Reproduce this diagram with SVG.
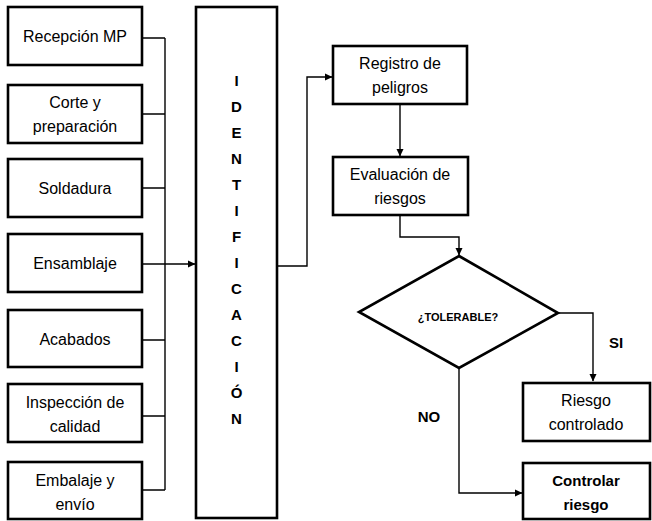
<svg xmlns="http://www.w3.org/2000/svg" width="652" height="521" viewBox="0 0 652 521">
<defs>
<marker id="ah" markerWidth="8" markerHeight="8" refX="7" refY="4" orient="auto" markerUnits="userSpaceOnUse">
<path d="M0,0.5 L7.5,4 L0,7.5 Z" fill="#000"/>
</marker>
<style>
.box{fill:#fff;stroke:#000;stroke-width:2.6}
.t{font-family:"Liberation Sans",Arial,sans-serif;font-size:16px;fill:#000;text-anchor:middle}
.b{font-family:"Liberation Sans",Arial,sans-serif;font-weight:bold;fill:#000;text-anchor:middle}
.c{fill:none;stroke:#000;stroke-width:1.4}
</style>
</defs>
<rect width="652" height="521" fill="#fff"/>
<g id="connectors">
<path class="c" d="M142,38 H165 M142,114 H165 M142,188 H165 M142,340 H165 M142,416 H165 M142,490 H165 M165,38 V490"/>
<path class="c" d="M142,264 H195" marker-end="url(#ah)"/>
<path class="c" d="M277,266 H307 V77 H332" marker-end="url(#ah)"/>
<path class="c" d="M400,104 V156" marker-end="url(#ah)"/>
<path class="c" d="M400,215 V237 H459 V255" marker-end="url(#ah)"/>
<path class="c" d="M558,313 H593 V381" marker-end="url(#ah)"/>
<path class="c" d="M459,368 V493 H522" marker-end="url(#ah)"/>
</g>
<g id="n1"><rect class="box" x="8" y="7" width="134" height="58"/><text class="t" x="75" y="42">Recepción MP</text></g>
<g id="n2"><rect class="box" x="8" y="85" width="134" height="58"/><text class="t" x="75" y="108">Corte y</text><text class="t" x="75" y="132">preparación</text></g>
<g id="n3"><rect class="box" x="8" y="159" width="134" height="58"/><text class="t" x="75" y="194">Soldadura</text></g>
<g id="n4"><rect class="box" x="8" y="234" width="134" height="58"/><text class="t" x="75" y="269">Ensamblaje</text></g>
<g id="n5"><rect class="box" x="8" y="310" width="134" height="57"/><text class="t" x="75" y="345">Acabados</text></g>
<g id="n6"><rect class="box" x="8" y="384" width="134" height="58"/><text class="t" x="75" y="408">Inspección de</text><text class="t" x="75" y="432">calidad</text></g>
<g id="n7"><rect class="box" x="8" y="462" width="134" height="57"/><text class="t" x="75" y="486">Embalaje y</text><text class="t" x="75" y="510">envío</text></g>
<g id="ident"><rect class="box" x="196" y="7" width="81" height="511"/>
<g class="b" style="font-size:15px">
<text x="236.5" y="85.5">I</text><text x="236.5" y="111.5">D</text><text x="236.5" y="137.5">E</text><text x="236.5" y="163.5">N</text><text x="236.5" y="189.5">T</text><text x="236.5" y="215.5">I</text><text x="236.5" y="241.5">F</text><text x="236.5" y="267.5">I</text><text x="236.5" y="293.5">C</text><text x="236.5" y="319.5">A</text><text x="236.5" y="345.5">C</text><text x="236.5" y="371.5">I</text><text x="236.5" y="397.5">Ó</text><text x="236.5" y="423.5">N</text>
</g></g>
<g id="registro"><rect class="box" x="333" y="46" width="134" height="58"/><text class="t" x="400" y="69">Registro de</text><text class="t" x="400" y="93">peligros</text></g>
<g id="evaluacion"><rect class="box" x="333" y="157" width="135" height="58"/><text class="t" x="400" y="180">Evaluación de</text><text class="t" x="400" y="204">riesgos</text></g>
<g id="tolerable"><path d="M459,256 L558,313 L459,368 L359,312 Z" fill="#fff" stroke="#000" stroke-width="2.6"/><text class="b" x="458" y="321" style="font-size:11px">¿TOLERABLE?</text></g>
<text class="b" x="616" y="348" style="font-size:15px">SI</text>
<text class="b" x="429" y="422" style="font-size:15px">NO</text>
<g id="controlado"><rect class="box" x="523" y="383" width="127" height="58"/><text class="t" x="586" y="406">Riesgo</text><text class="t" x="586" y="430">controlado</text></g>
<g id="controlar"><rect class="box" x="523" y="463" width="127" height="56"/><text class="b" x="586" y="486" style="font-size:15px">Controlar</text><text class="b" x="586" y="510" style="font-size:15px">riesgo</text></g>
</svg>
